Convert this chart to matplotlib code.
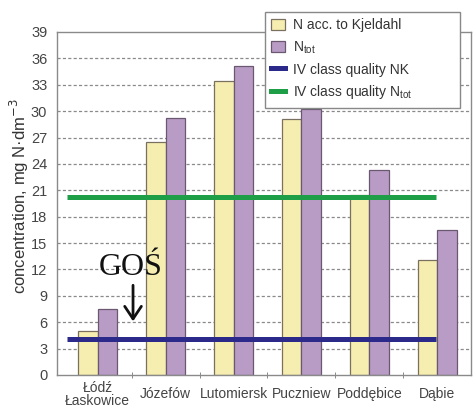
import matplotlib
matplotlib.use("Agg")
import matplotlib.pyplot as plt
import numpy as np
from matplotlib.patches import Patch
from matplotlib.lines import Line2D

categories = ["Łódź\nŁaskowice", "Józefów", "Lutomiersk", "Puczniew", "Poddębice", "Dąbie"]
n_kjeldahl = [5.0, 26.5, 33.4, 29.1, 20.5, 13.1]
n_tot = [7.5, 29.2, 35.1, 30.2, 23.3, 16.5]
limit_nk = 4.1
limit_ntot = 20.2
line_x = [-0.45, 4.98]
yticks = list(range(0, 40, 3))

plt.rcParams['font.family'] = ['Liberation Sans', 'DejaVu Sans']

fig = plt.figure(figsize=(4.73, 4.08), dpi=100)
ax = fig.add_axes([0.1205, 0.0809, 0.8755, 0.8407])

x = np.arange(len(categories))
w = 0.285
yellow = "#F6EEB0"
purple = "#B99CC6"
ax.bar(x - w / 2, n_kjeldahl, w, color=yellow, edgecolor="#7a7060", linewidth=0.9, zorder=2)
ax.bar(x + w / 2, n_tot, w, color=purple, edgecolor="#6a5870", linewidth=0.9, zorder=2)

ax.plot(line_x, [limit_ntot, limit_ntot], color="#1E9E47", lw=3.6, solid_capstyle='butt', zorder=3)
ax.plot(line_x, [limit_nk, limit_nk], color="#2B2A8A", lw=3.6, solid_capstyle='butt', zorder=3)

ax.set_xlim(-0.6, 5.5)
ax.set_ylim(0, 39)
ax.set_yticks(yticks)
ax.set_yticklabels([str(v) for v in yticks], fontsize=10.5, color="#444444")
ax.tick_params(axis='y', length=0, pad=7)
for v in yticks[1:-1]:
    ax.axhline(v, color="#8a8a8a", lw=0.9, ls=(0, (2.5, 1.8)), zorder=1)

ax.set_xticks(x)
ax.set_xticklabels(categories, fontsize=10, color="#444444", va='center', linespacing=0.95)
ax.tick_params(axis='x', length=0, pad=14)
ax.set_xticks(np.arange(0.5, 5.0, 1.0), minor=True)
ax.tick_params(axis='x', which='minor', length=4, direction='inout', color="#777777")

for s in ax.spines.values():
    s.set_color("#8a8a8a")
    s.set_linewidth(1.0)

fig.text(19 / 473, 1 - 196 / 408, "concentration, mg N·dm$^{-3}$", fontsize=12, color="#333333",
         rotation=90, ha='center', va='center')

ax.text(0.48, 12.2, "GOŚ", family=['Liberation Serif', 'DejaVu Serif'], fontsize=23,
        ha='center', va='center', color="#111111", zorder=5)
ax.annotate("", xy=(0.52, 6.1), xytext=(0.52, 10.2),
            arrowprops=dict(arrowstyle='->,head_length=0.45,head_width=0.3', lw=2.0, color="#111111",
                            mutation_scale=20, shrinkA=0, shrinkB=0), zorder=5)

handles = [Patch(facecolor=yellow, edgecolor="#7a7060", lw=0.9),
           Patch(facecolor=purple, edgecolor="#6a5870", lw=0.9),
           Line2D([], [], color="#2B2A8A", lw=3.6),
           Line2D([], [], color="#1E9E47", lw=3.6)]
labels = ["N acc. to Kjeldahl", "N$_{\\mathregular{tot}}$", "IV class quality NK",
          "IV class quality N$_{\\mathregular{tot}}$"]
leg = fig.legend(handles, labels, loc='upper left',
                 bbox_to_anchor=(265 / 473, 1 - 102 / 408, 195 / 473, 90 / 408), mode='expand',
                 borderaxespad=0, fontsize=10, frameon=True, fancybox=False, edgecolor="#888888",
                 handlelength=1.0, handleheight=0.8, handletextpad=0.6, labelspacing=0.5,
                 borderpad=0.45, framealpha=1)
leg.get_frame().set_linewidth(1.0)
for t in leg.get_texts():
    t.set_color("#333333")

fig.savefig("out.png", dpi=100)
